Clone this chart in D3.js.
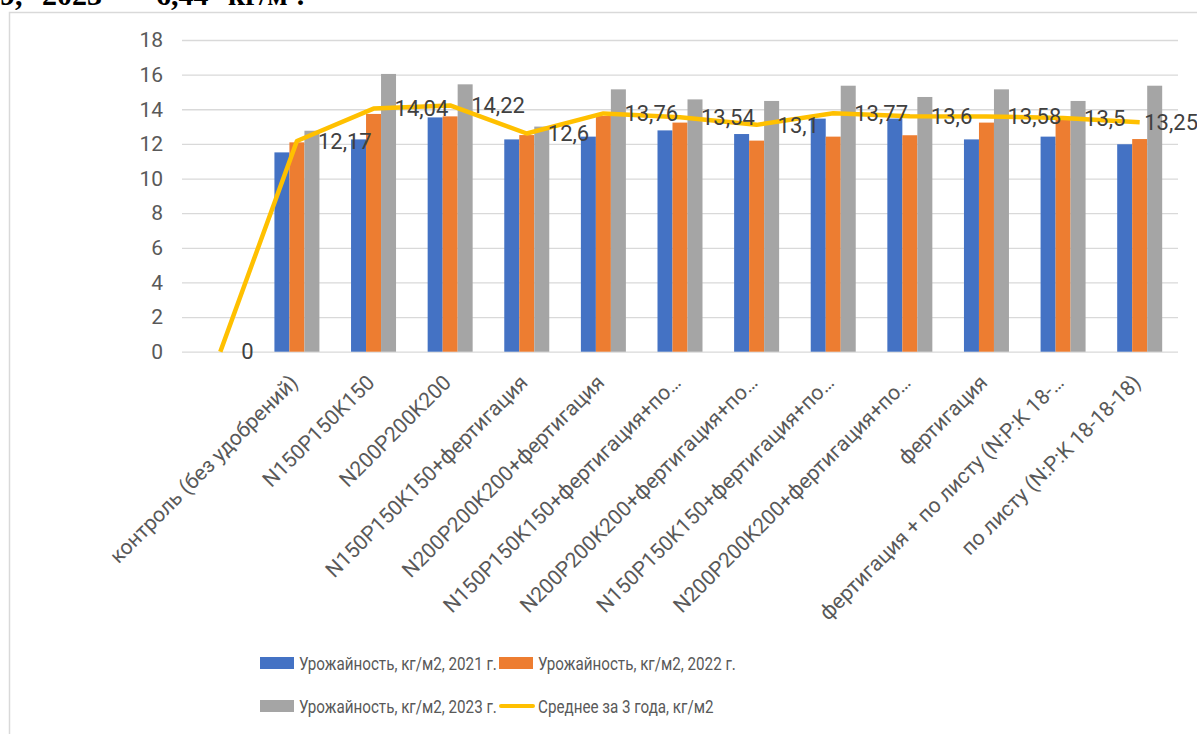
<!DOCTYPE html>
<html>
<head>
<meta charset="utf-8">
<script src="https://cdn.jsdelivr.net/npm/d3@7"></script>
<style>
  body { margin: 0; background: #fff; }
</style>
</head>
<body>
<div id="chart"></div>
<script>
//Data (first slot of the category axis is empty)
let categories = ["", "контроль (без удобрений)", "N150P150K150", "N200P200K200",
  "N150P150K150+фертигация", "N200P200K200+фертигация",
  "N150P150K150+фертигация+по…", "N200P200K200+фертигация+по…",
  "N150P150K150+фертигация+по…", "N200P200K200+фертигация+по…",
  "фертигация", "фертигация + по листу (N:P:K 18-…", "по листу (N:P:K 18-18-18)"]
let yield2021 = [null, 11.51, 12.26, 13.53, 12.26, 12.42, 12.78, 12.57, 13.46, 13.46, 12.26, 12.42, 11.98]
let yield2022 = [null, 12.09, 13.73, 13.59, 12.51, 13.61, 13.23, 12.19, 12.42, 12.5, 13.23, 13.45, 12.28]
let yield2023 = [null, 12.76, 16.04, 15.44, 13.0, 15.15, 14.57, 14.48, 15.36, 14.71, 15.15, 14.48, 15.36]
let average3y = [0, 12.17, 14.04, 14.22, 12.6, 13.76, 13.54, 13.1, 13.77, 13.6, 13.58, 13.5, 13.25]
let seriesNames = ["Урожайность, кг/м2, 2021 г.", "Урожайность, кг/м2, 2022 г.",
  "Урожайность, кг/м2, 2023 г.", "Среднее за 3 года, кг/м2"]
let yTicks = [0, 2, 4, 6, 8, 10, 12, 14, 16, 18]

const width = 1197
const height = 734
const plotLeft = 182, plotRight = 1178, plotTop = 40, plotBottom = 351.7
const chartRight = 1198

let colors = ["#4472C4", "#ED7D31", "#A5A5A5", "#FFC000"]
let barSeries = [yield2021, yield2022, yield2023]

let svg = d3.select("#chart")
            .append("svg")
            .attr("width", width)
            .attr("height", height)
            .style("font-family", "Roboto, sans-serif")

//Cut-off line of document text above the chart
svg.append("text")
   .attr("x", -15)
   .attr("y", 5)
   .style("font-family", "'Liberation Serif', serif")
   .style("font-weight", "bold")
   .style("font-size", "30px")
   .style("word-spacing", "12px")
   .attr("fill", "#000")
   .text("19, 2023 – 6,44 кг/м².")

//Chart border
svg.append("rect")
   .attr("x", 9.5)
   .attr("y", 12.5)
   .attr("width", 1200)
   .attr("height", 740)
   .attr("fill", "none")
   .attr("stroke", "#d9d9d9")
   .attr("stroke-width", 1.5)

//Scales
let xScale = d3.scaleBand()
               .domain(d3.range(categories.length))
               .range([plotLeft, plotRight])
let xInner = d3.scaleBand()
               .domain([0, 1, 2])
               .range([-22.5, 22.5])
let yScale = d3.scaleLinear()
               .domain([0, 18])
               .range([plotBottom, plotTop])
let center = function(i) { return xScale(i) + xScale.bandwidth() / 2 }

//Gridlines and y labels
let yAxis = d3.axisLeft(yScale)
              .tickValues(yTicks)
              .tickSize(-(plotRight - plotLeft))
              .tickPadding(19)
let gy = svg.append("g")
            .attr("transform", "translate(" + plotLeft + ",0)")
            .call(yAxis)
gy.select(".domain").remove()
gy.selectAll(".tick line").attr("stroke", "#d9d9d9").attr("stroke-width", 1.3)
gy.selectAll(".tick text")
  .attr("fill", "#595959")
  .style("font-size", "21px")
  .style("font-family", "Roboto, sans-serif")

//Bars
barSeries.forEach(function(values, s) {
  svg.append("g")
     .selectAll("rect")
     .data(values.map(function(v, i) { return {i: i, v: v} }).filter(function(d) { return d.v != null }))
     .enter().append("rect")
     .attr("x", function(d) { return center(d.i) + xInner(s) })
     .attr("width", xInner.bandwidth())
     .attr("y", function(d) { return yScale(d.v) })
     .attr("height", function(d) { return yScale(0) - yScale(d.v) })
     .attr("fill", colors[s])
})

//Category labels
let xAxis = d3.axisBottom(xScale)
              .tickSize(0)
              .tickFormat(function(i) { return categories[i] })
let gx = svg.append("g")
            .attr("transform", "translate(0," + plotBottom + ")")
            .call(xAxis)
gx.select(".domain").remove()
gx.selectAll(".tick text")
  .attr("fill", "#595959")
  .style("font-size", "21px")
  .style("font-family", "Roboto, sans-serif")
  .attr("text-anchor", "end")
  .attr("y", 0)
  .attr("dy", "0.35em")
  .attr("transform", "translate(-3,27) rotate(-45)")

//Average line
let line = d3.line()
             .x(function(d, i) { return center(i) })
             .y(function(d) { return yScale(d) })
svg.append("path")
   .datum(average3y)
   .attr("d", line)
   .attr("fill", "none")
   .attr("stroke", colors[3])
   .attr("stroke-width", 4.5)
   .attr("stroke-linejoin", "round")

//Value labels to the right of the points, kept inside the chart area
svg.append("g")
   .selectAll("text")
   .data(average3y)
   .enter().append("text")
   .attr("y", function(d) { return yScale(d) })
   .attr("dy", "0.35em")
   .attr("fill", "#404040")
   .style("font-size", "22px")
   .text(function(d) { return String(d).replace(".", ",") })
   .attr("x", function(d, i) {
      let w = this.getComputedTextLength()
      return Math.min(center(i) + 21, chartRight - w)
   })

//Legend
let legendItems = [
  {name: seriesNames[0], color: colors[0], x: 260, y: 663, type: "rect"},
  {name: seriesNames[1], color: colors[1], x: 499, y: 663, type: "rect"},
  {name: seriesNames[2], color: colors[2], x: 260, y: 706, type: "rect"},
  {name: seriesNames[3], color: colors[3], x: 499, y: 706, type: "line"}
]
let legend = svg.selectAll(".legend")
                .data(legendItems)
                .enter().append("g")
                .attr("class", "legend")
                .attr("transform", function(d) { return "translate(" + d.x + "," + d.y + ")" })
legend.filter(function(d) { return d.type == "rect" })
      .append("rect")
      .attr("x", 0)
      .attr("y", -6)
      .attr("width", 34)
      .attr("height", 12)
      .attr("fill", function(d) { return d.color })
legend.filter(function(d) { return d.type == "line" })
      .append("line")
      .attr("x1", 2)
      .attr("x2", 34)
      .attr("stroke", function(d) { return d.color })
      .attr("stroke-width", 4)
      .attr("stroke-linecap", "round")
//legend font in the picture is condensed, so squeeze it horizontally
legend.append("text")
      .attr("transform", "translate(39,0) scale(0.8,1)")
      .attr("dy", "0.35em")
      .attr("fill", "#595959")
      .style("font-size", "19px")
      .text(function(d) { return d.name })
</script>
</body>
</html>
